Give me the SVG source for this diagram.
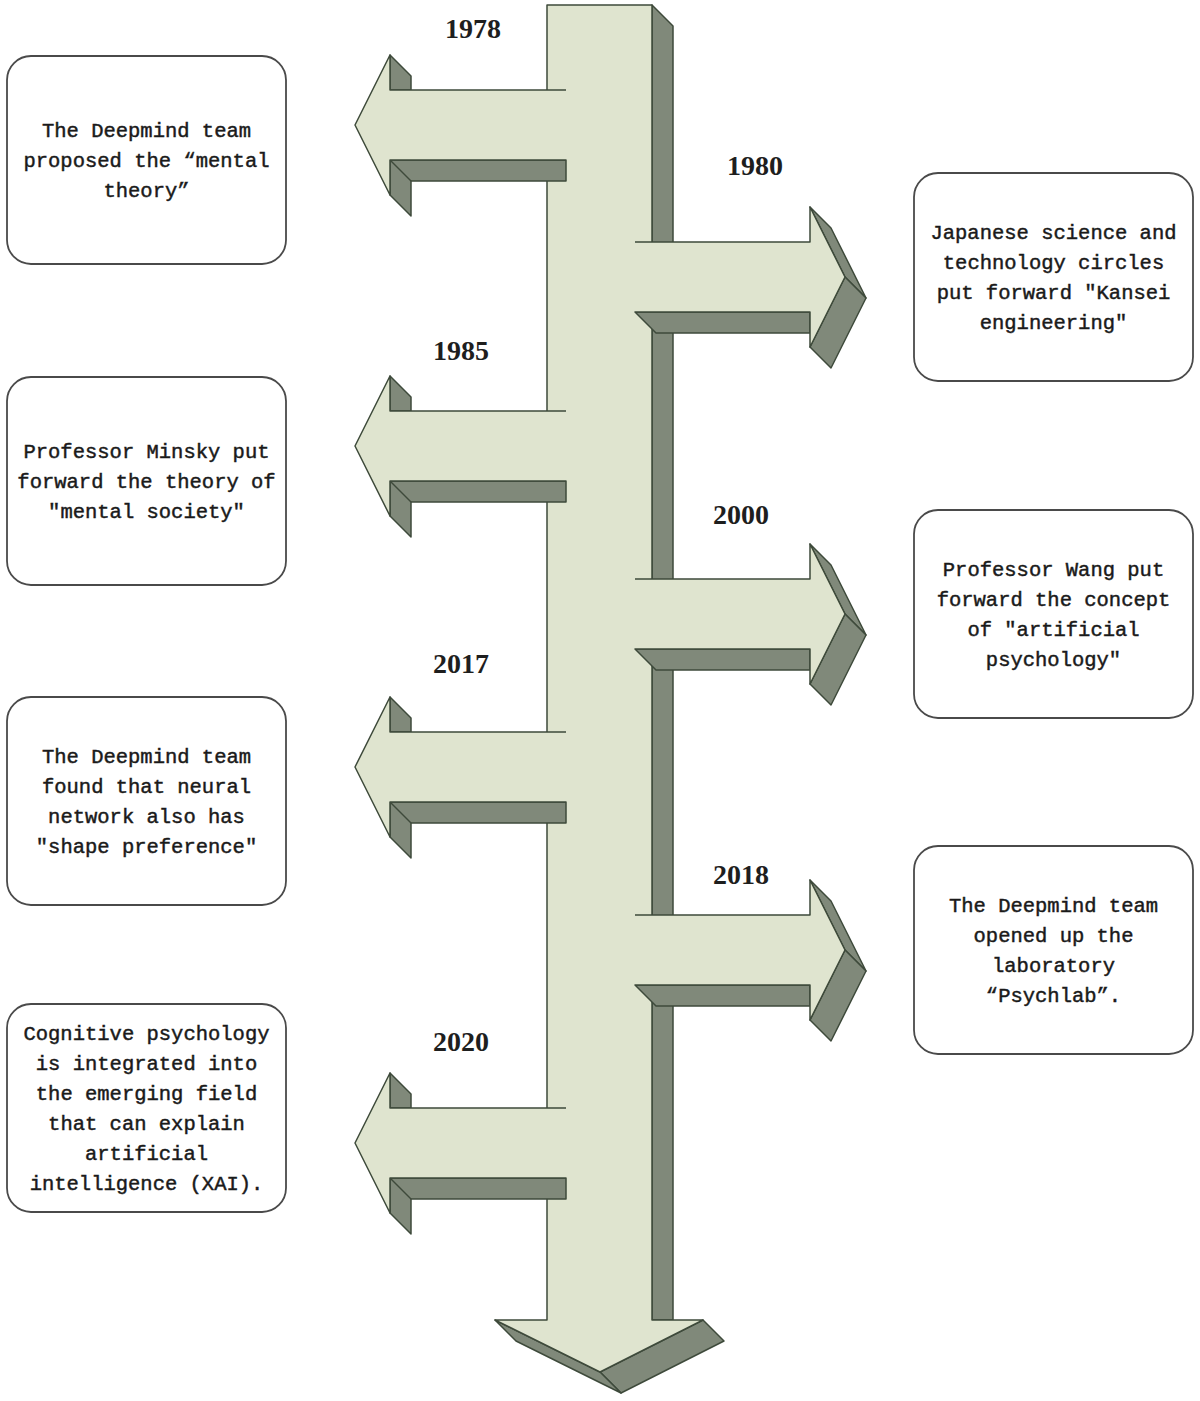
<svg xmlns="http://www.w3.org/2000/svg" width="1200" height="1401" viewBox="0 0 1200 1401">
<style>
.front{fill:#dfe4cf;stroke:none}
.frontS{fill:#dfe4cf;stroke:#3e4a3b;stroke-width:1.5;stroke-linejoin:round}
.dark{fill:#80897a;stroke:#3e4a3b;stroke-width:1.5;stroke-linejoin:round}
.edge{fill:none;stroke:#3e4a3b;stroke-width:1.5;stroke-linejoin:round}
.box{fill:#ffffff;stroke:#4a4a4a;stroke-width:1.8}
.t{font-family:"Liberation Mono","DejaVu Sans Mono",monospace;font-size:20.5px;fill:#1a1a1a;stroke:#1a1a1a;stroke-width:0.45;text-anchor:middle}
.yr{font-family:"Liberation Serif","DejaVu Serif",serif;font-weight:bold;font-size:28px;fill:#1e1e1e;text-anchor:middle}
</style>
<rect width="1200" height="1401" fill="#ffffff"/>
<g id="connectors">
  <g id="timeline-main">
    <polygon class="dark" points="652,5 673,26 673,1320 652,1320"/>
    <polygon class="dark" points="703,1320 724,1341 621,1393 600,1372"/>
    <polygon class="dark" points="495,1320 600,1372 621,1393 516,1341"/>
    <polygon class="frontS" points="547,5 652,5 652,1320 703,1320 600,1372 495,1320 547,1320"/>
  </g>
  <g id="arrow-1978">
    <polygon class="dark" points="390,55 411,76 411,90 390,90"/>
    <polygon class="dark" points="390,160 566,160 566,181 411,181 411,216 390,195"/>
    <path class="edge" d="M390,160 L411,181"/>
    <polygon class="front" points="566,90 390,90 390,55 355,125 390,195 390,160 566,160"/>
    <path class="edge" d="M566,90 H390 V55 L355,125 L390,195 V160 H566"/>
  </g>
  <g id="arrow-1985">
    <polygon class="dark" points="390,376 411,397 411,411 390,411"/>
    <polygon class="dark" points="390,481 566,481 566,502 411,502 411,537 390,516"/>
    <path class="edge" d="M390,481 L411,502"/>
    <polygon class="front" points="566,411 390,411 390,376 355,446 390,516 390,481 566,481"/>
    <path class="edge" d="M566,411 H390 V376 L355,446 L390,516 V481 H566"/>
  </g>
  <g id="arrow-2017">
    <polygon class="dark" points="390,697 411,718 411,732 390,732"/>
    <polygon class="dark" points="390,802 566,802 566,823 411,823 411,858 390,837"/>
    <path class="edge" d="M390,802 L411,823"/>
    <polygon class="front" points="566,732 390,732 390,697 355,767 390,837 390,802 566,802"/>
    <path class="edge" d="M566,732 H390 V697 L355,767 L390,837 V802 H566"/>
  </g>
  <g id="arrow-2020">
    <polygon class="dark" points="390,1073 411,1094 411,1108 390,1108"/>
    <polygon class="dark" points="390,1178 566,1178 566,1199 411,1199 411,1234 390,1213"/>
    <path class="edge" d="M390,1178 L411,1199"/>
    <polygon class="front" points="566,1108 390,1108 390,1073 355,1143 390,1213 390,1178 566,1178"/>
    <path class="edge" d="M566,1108 H390 V1073 L355,1143 L390,1213 V1178 H566"/>
  </g>
  <g id="arrow-1980">
    <polygon class="dark" points="635,312 810,312 810,333 656,333"/>
    <polygon class="dark" points="810,207 831,228 866,298 845,277"/>
    <polygon class="dark" points="845,277 866,298 831,368 810,347"/>
    <polygon class="front" points="635,242 810,242 810,207 845,277 810,347 810,312 635,312"/>
    <path class="edge" d="M635,242 H810 V207 L845,277 L810,347 V312 H635"/>
  </g>
  <g id="arrow-2000">
    <polygon class="dark" points="635,649 810,649 810,670 656,670"/>
    <polygon class="dark" points="810,544 831,565 866,635 845,614"/>
    <polygon class="dark" points="845,614 866,635 831,705 810,684"/>
    <polygon class="front" points="635,579 810,579 810,544 845,614 810,684 810,649 635,649"/>
    <path class="edge" d="M635,579 H810 V544 L845,614 L810,684 V649 H635"/>
  </g>
  <g id="arrow-2018">
    <polygon class="dark" points="635,985 810,985 810,1006 656,1006"/>
    <polygon class="dark" points="810,880 831,901 866,971 845,950"/>
    <polygon class="dark" points="845,950 866,971 831,1041 810,1020"/>
    <polygon class="front" points="635,915 810,915 810,880 845,950 810,1020 810,985 635,985"/>
    <path class="edge" d="M635,915 H810 V880 L845,950 L810,1020 V985 H635"/>
  </g>
  <g id="year-labels">
    <text class="yr" x="473" y="38">1978</text>
    <text class="yr" x="755" y="175">1980</text>
    <text class="yr" x="461" y="360">1985</text>
    <text class="yr" x="741" y="524">2000</text>
    <text class="yr" x="461" y="673">2017</text>
    <text class="yr" x="741" y="884">2018</text>
    <text class="yr" x="461" y="1051">2020</text>
  </g>
</g>
<g id="node-1978">
  <rect class="box" x="7" y="56" width="279" height="208" rx="24"/>
  <text class="t" x="146.5" y="137">The Deepmind team</text>
  <text class="t" x="146.5" y="167">proposed the “mental</text>
  <text class="t" x="146.5" y="197">theory”</text>
</g>
<g id="node-1985">
  <rect class="box" x="7" y="377" width="279" height="208" rx="24"/>
  <text class="t" x="146.5" y="458">Professor Minsky put</text>
  <text class="t" x="146.5" y="488">forward the theory of</text>
  <text class="t" x="146.5" y="518">"mental society"</text>
</g>
<g id="node-2017">
  <rect class="box" x="7" y="697" width="279" height="208" rx="24"/>
  <text class="t" x="146.5" y="763">The Deepmind team</text>
  <text class="t" x="146.5" y="793">found that neural</text>
  <text class="t" x="146.5" y="823">network also has</text>
  <text class="t" x="146.5" y="853">"shape preference"</text>
</g>
<g id="node-2020">
  <rect class="box" x="7" y="1004" width="279" height="208" rx="24"/>
  <text class="t" x="146.5" y="1040">Cognitive psychology</text>
  <text class="t" x="146.5" y="1070">is integrated into</text>
  <text class="t" x="146.5" y="1100">the emerging field</text>
  <text class="t" x="146.5" y="1130">that can explain</text>
  <text class="t" x="146.5" y="1160">artificial</text>
  <text class="t" x="146.5" y="1190">intelligence (XAI).</text>
</g>
<g id="node-1980">
  <rect class="box" x="914" y="173" width="279" height="208" rx="24"/>
  <text class="t" x="1053.5" y="239">Japanese science and</text>
  <text class="t" x="1053.5" y="269">technology circles</text>
  <text class="t" x="1053.5" y="299">put forward "Kansei</text>
  <text class="t" x="1053.5" y="329">engineering"</text>
</g>
<g id="node-2000">
  <rect class="box" x="914" y="510" width="279" height="208" rx="24"/>
  <text class="t" x="1053.5" y="576">Professor Wang put</text>
  <text class="t" x="1053.5" y="606">forward the concept</text>
  <text class="t" x="1053.5" y="636">of "artificial</text>
  <text class="t" x="1053.5" y="666">psychology"</text>
</g>
<g id="node-2018">
  <rect class="box" x="914" y="846" width="279" height="208" rx="24"/>
  <text class="t" x="1053.5" y="912">The Deepmind team</text>
  <text class="t" x="1053.5" y="942">opened up the</text>
  <text class="t" x="1053.5" y="972">laboratory</text>
  <text class="t" x="1053.5" y="1002">“Psychlab”.</text>
</g>
</svg>
